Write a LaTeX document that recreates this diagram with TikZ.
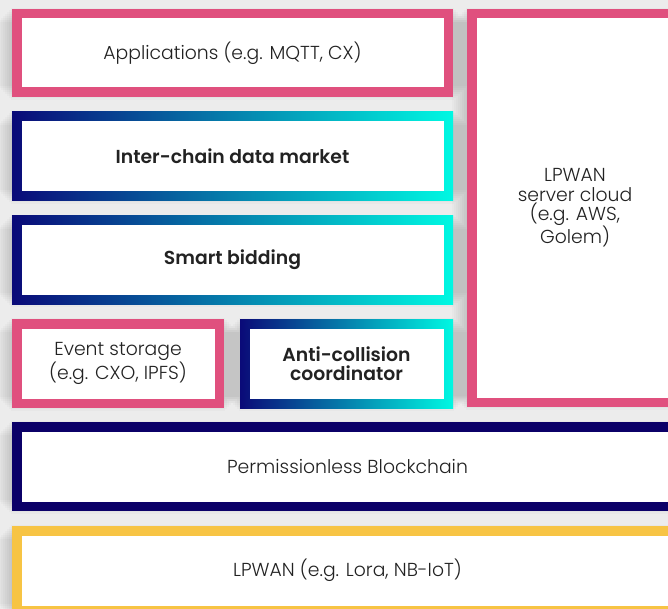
\documentclass[tikz,border=0pt]{standalone}
\usepackage{fontspec}
\setmainfont{Poppins Light}[BoldFont=Poppins SemiBold]
\pgfdeclarelayer{bg}
\pgfdeclarelayer{shade}
\pgfsetlayers{bg,shade,main}

\definecolor{pinkc}{HTML}{E0507E}
\definecolor{navyc}{HTML}{0A0A78}
\definecolor{cyanc}{HTML}{00F8E2}
\definecolor{deepc}{HTML}{0B0068}
\definecolor{yellowc}{HTML}{F7C444}
\definecolor{bgc}{HTML}{ECECEC}
\definecolor{txtc}{HTML}{222222}

\tikzset{
layer/.style={rectangle, inner sep=0pt, outer sep=0pt, align=center, text=txtc,
  font=\fontsize{18.8}{19.2}\selectfont,
  path picture={\fill[white] ([shift={(9.5pt,-9.5pt)}]path picture bounding box.north west)
    rectangle ([shift={(-9.5pt,9.5pt)}]path picture bounding box.south east);}},
pinkbox/.style={layer, fill=pinkc},
gradbox/.style={layer, left color=navyc, right color=cyanc, font=\fontsize{18.8}{19.2}\selectfont\bfseries},
deepbox/.style={layer, fill=deepc},
yellowbox/.style={layer, fill=yellowc}
}

\begin{document}
\begin{tikzpicture}[x=1pt, y=-1pt]
\clip (0,0) rectangle (668,609);
\node[pinkbox, minimum width=441pt, minimum height=88pt] (apps) at (232.5,53) {Applications (e.g. MQTT, CX)};
\node[gradbox, minimum width=441pt, minimum height=89pt] (market) at (232.5,156.5) {Inter-chain data market};
\node[gradbox, minimum width=441pt, minimum height=88pt] (bidding) at (232.5,260) {Smart bidding};
\node[pinkbox, minimum width=212pt, minimum height=89pt] (storage) at (118,363.5) {Event storage\\(e.g. CXO, IPFS)};
\node[gradbox, minimum width=213pt, minimum height=89pt] (anticol) at (346.5,363.5) {Anti-collision\\coordinator};
\node[pinkbox, minimum width=216pt, minimum height=398pt] (cloud) at (575,208) {LPWAN\\server cloud\\(e.g. AWS,\\Golem)};
\node[deepbox, minimum width=671pt, minimum height=89pt] (chain) at (347.5,466.5) {Permissionless Blockchain};
\node[yellowbox, minimum width=671pt, minimum height=89pt] (lpwan) at (347.5,570.5) {LPWAN (e.g. Lora, NB-IoT)};
\begin{pgfonlayer}{bg}
\fill[bgc] (0,0) rectangle (668,609);
\end{pgfonlayer}
\begin{pgfonlayer}{shade}
\foreach \n in {apps,market,bidding,storage,anticol,cloud,chain,lpwan}
  \foreach \s in {1,3,...,15}
    \fill[black, opacity=0.018] ([shift={(-\s pt,-\s pt+2pt)}]\n.north west) rectangle ([shift={(\s pt,\s pt-4pt)}]\n.south east);
\end{pgfonlayer}
\end{tikzpicture}
\end{document}
